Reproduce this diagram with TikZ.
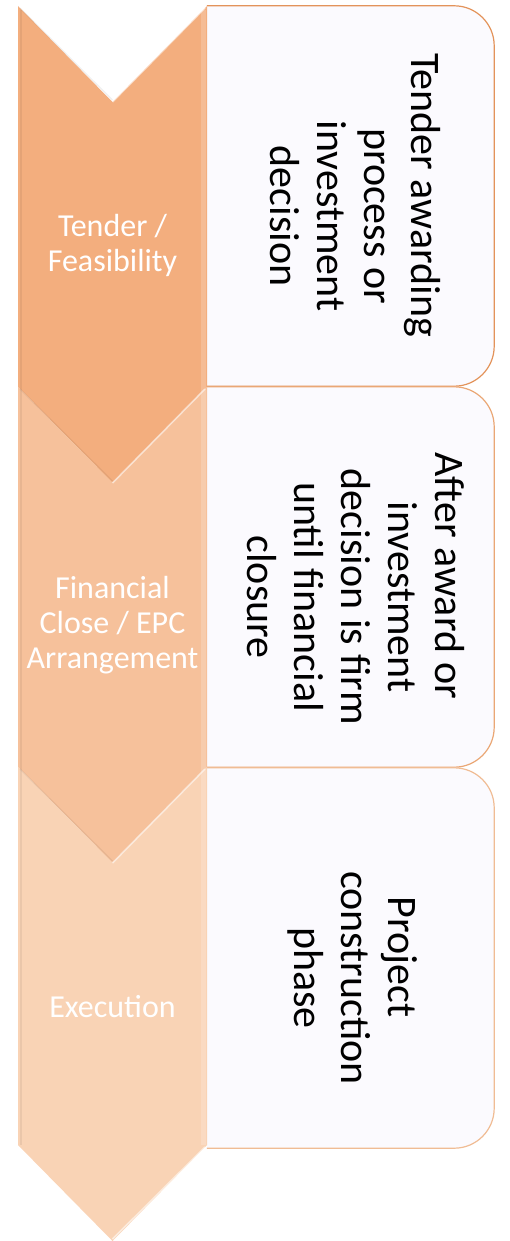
\documentclass[tikz,border=0pt]{standalone}
\usepackage{fontspec}
\setmainfont{Carlito}
\usepackage{graphicx}
\usepackage{xcolor}
\usepackage{tikz}
\usetikzlibrary{backgrounds, calc}
\definecolor{chevA}{HTML}{F3AE7E}
\definecolor{chevB}{HTML}{F6C19B}
\definecolor{chevC}{HTML}{F9D3B5}
\definecolor{edgeA}{HTML}{E3935A}
\definecolor{edgeB}{HTML}{EAA775}
\definecolor{edgeC}{HTML}{F0BC94}
\definecolor{cardfill}{HTML}{FBFAFE}
\newcommand{\chevpath}[2]{(18,#1) -- (112.5,#1-96) -- (207,#1) -- (207,#2) -- (112.5,#2-96) -- (18,#2) -- cycle}
\newcommand{\vtext}[1]{\rotatebox{-90}{\begin{tabular}{@{\hspace{40pt}}c@{}}#1\end{tabular}}}

\begin{document}
\begin{tikzpicture}[
  x=1pt, y=1pt,
  stage/.style={text=white, align=center, font=\fontsize{32}{35}\selectfont},
  desc/.style={minimum width=287pt, minimum height=380pt, inner sep=0pt,
               font=\fontsize{42}{47}\selectfont},
  card/.style={draw=#1, line width=1.2pt, fill=cardfill, rounded corners=40pt},
  chev/.style={fill=#1},
  shine/.style={draw=white, line width=1.6pt, opacity=0.55},
  rim/.style={draw=white, line width=5pt, opacity=0.18},
  shade/.style={draw=black, line width=1.2pt, opacity=0.06}
]
  \useasboundingbox (0,0) rectangle (510,-1241);

  \node[desc] (tfd) at (350.5,-196) {\vtext{Tender awarding\hspace{1em}\null\\process or\\investment\\decision}};
  \node[desc] (fcd) at (350.5,-577) {\vtext{After award or\hspace{1em}\null\\investment\\decision is firm\\until financial\\closure}};
  \node[desc] (exd) at (350.5,-958) {\vtext{Project\hspace{1em}\null\\construction\\phase}};

  \begin{scope}[on background layer]
    \draw[card=edgeA] (tfd.north west) -- (tfd.north east) -- (tfd.south east) -- (tfd.south west);
    \draw[card=edgeB] (fcd.north west) -- (fcd.north east) -- (fcd.south east) -- (fcd.south west);
    \draw[card=edgeC] (exd.north west) -- (exd.north east) -- (exd.south east) -- (exd.south west);
  \end{scope}

  \path[chev=chevA] \chevpath{-6}{-387};
  \path[chev=chevB] \chevpath{-387}{-767};
  \path[chev=chevC] \chevpath{-767}{-1145};
  \draw[rim] (203.5,-10) -- (203.5,-1145);
  \draw[shade] (21,-10) -- (21,-1145);
  \draw[shade] (20,-8) -- (112.5,-100);
  \draw[shade] (20,-389) -- (112.5,-481);
  \draw[shade] (20,-769) -- (112.5,-861);
  \draw[shine] (112.5,-102) -- (205,-8);
  \draw[shine] (112.5,-483) -- (205,-389);
  \draw[shine] (112.5,-863) -- (205,-769);
  \draw[shine] (112.5,-1239) -- (205,-1147);

  \node[stage] (tf) at (112.5,-245) {Tender /\\Feasibility};
  \node[stage] (fc) at (112.5,-625) {Financial\\Close / EPC\\Arrangement};
  \node[stage] (ex) at (112.5,-1007) {Execution};
\end{tikzpicture}
\end{document}
